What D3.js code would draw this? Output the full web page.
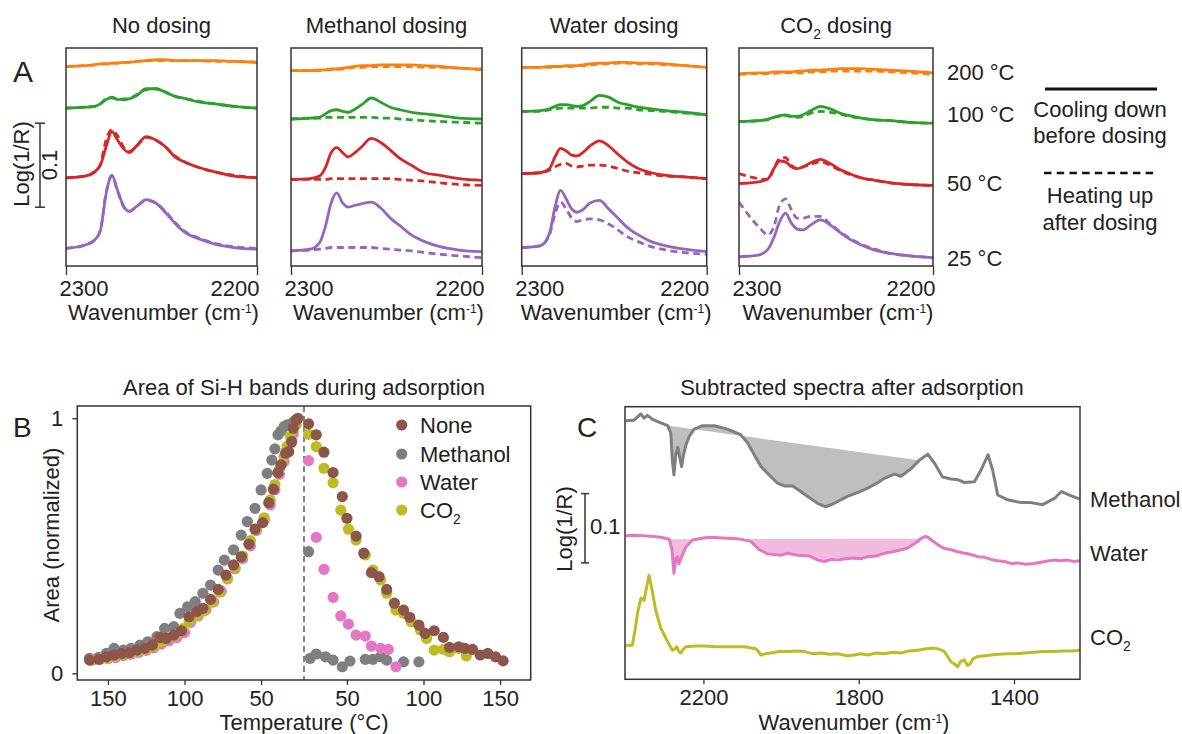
<!DOCTYPE html>
<html>
<head>
<meta charset="utf-8">
<script src="https://cdn.jsdelivr.net/npm/d3@7"></script>
<style>
body { margin: 0; background: #fff; }
text { font-family: "Liberation Sans", Arial, sans-serif; fill: #222; }
</style>
</head>
<body>
<svg id="fig" width="1182" height="734"></svg>
<script>
// ---------- panel A data ----------
var wnA = [2300, 2290, 2285, 2282, 2279, 2276, 2273, 2270, 2267, 2263, 2258, 2253, 2248, 2243, 2237, 2230, 2222, 2212, 2200];
var titlesA = ["No dosing", "Methanol dosing", "Water dosing", "CO2 dosing"];
var tempLabels = ["200 °C", "100 °C", "50 °C", "25 °C"];
var tempColors = ["#ff7f0e", "#2ca02c", "#d62728", "#9467bd"];

// stacking offsets, order 200, 100, 50, 25 °C
var offNone = [0.2375, 0.188, 0.105, 0.021];
var offMeth = [0.2325, 0.175, 0.103, 0.018];
var offWater = [0.2365, 0.184, 0.110, 0.022];
var offCo2 = [0.229, 0.172, 0.098, 0.011];

// s = cooling down before dosing, d = heating up after dosing
var none200s = [0, .001, .002, .003, .003, .004, .004, .005, .005, .006, .007, .008, .008, .007, .007, .007, .007, .006, .005];
var none200d = [0, .001, .002, .003, .003, .004, .004, .005, .005, .006, .007, .007, .007, .007, .007, .007, .006, .006, .005];
var none100s = [0, .001, .002, .005, .010, .013, .010, .011, .011, .015, .023, .023, .019, .014, .011, .007, .005, .002, .000];
var none100d = [0, .001, .002, .005, .011, .012, .011, .010, .011, .016, .022, .023, .019, .014, .011, .008, .005, .002, .000];
var none50s = [0, .002, .007, .015, .037, .055, .045, .035, .030, .038, .049, .045, .037, .025, .018, .012, .007, .002, .000];
var none50d = [0, .002, .007, .016, .045, .057, .050, .037, .031, .038, .048, .045, .037, .026, .018, .012, .007, .003, .000];
var none25s = [0, .004, .010, .021, .065, .087, .069, .051, .044, .050, .058, .054, .043, .030, .018, .011, .005, .001, -.001];
var none25d = [0, .004, .010, .022, .066, .086, .068, .050, .044, .050, .057, .054, .044, .031, .019, .012, .006, .002, .000];

var meth200s = [0, .000, .001, .001, .002, .002, .003, .004, .005, .006, .006, .007, .007, .007, .007, .006, .005, .003, .002];
var meth200d = [0, .000, .000, .001, .001, .002, .002, .003, .004, .004, .005, .005, .005, .005, .005, .004, .004, .003, .001];
var meth100s = [0, .001, .002, .006, .010, .011, .009, .008, .011, .017, .025, .020, .014, .011, .008, .006, .004, .001, .000];
var meth100d = [0, .001, .001, .002, .002, .002, .002, .002, .002, .002, .002, .001, .001, .000, -.001, -.002, -.003, -.004, -.005];
var meth50s = [0, .001, .004, .014, .032, .038, .032, .027, .031, .039, .049, .044, .035, .025, .017, .008, .005, .001, -.001];
var meth50d = [0, .000, .000, .000, .001, .001, .001, .001, .001, .001, .001, .001, .001, .000, -.001, -.002, -.004, -.006, -.007];
var meth25s = [0, .002, .010, .029, .057, .069, .057, .052, .054, .056, .058, .051, .039, .030, .019, .011, .005, .001, -.001];
var meth25d = [0, .001, .002, .003, .004, .004, .004, .004, .004, .004, .004, .003, .002, .001, .000, -.002, -.004, -.006, -.008];

var water200s = [0, .000, .001, .001, .001, .002, .002, .002, .003, .004, .005, .005, .006, .006, .005, .005, .004, .002, .000];
var water200d = [0, .000, .000, .001, .001, .001, .001, .002, .002, .003, .004, .004, .005, .005, .004, .004, .003, .002, .000];
var water100s = [0, .001, .003, .006, .008, .008, .007, .006, .007, .012, .019, .017, .011, .008, .005, .003, .001, -.001, -.004];
var water100d = [0, .000, .002, .003, .004, .004, .004, .004, .004, .004, .005, .005, .004, .004, .002, .001, .000, -.002, -.004];
var water50s = [0, .001, .006, .020, .030, .027, .022, .021, .025, .033, .039, .033, .023, .014, .006, .001, -.002, -.004, -.006];
var water50d = [0, .001, .004, .008, .011, .012, .009, .008, .009, .010, .010, .009, .006, .003, .001, -.001, -.003, -.004, -.006];
var water25s = [0, .002, .017, .048, .068, .058, .046, .042, .045, .053, .056, .046, .035, .024, .015, .007, .002, -.002, -.005];
var water25d = [0, .002, .015, .040, .054, .046, .035, .031, .033, .034, .033, .028, .021, .013, .007, .001, -.003, -.006, -.008];

var co2200s = [0, .001, .001, .002, .002, .002, .002, .003, .003, .004, .004, .005, .006, .006, .006, .005, .004, .003, .001];
var co2200d = [-.001, .000, .000, .000, .001, .001, .001, .001, .001, .002, .002, .003, .003, .003, .003, .003, .002, .001, -.001];
var co2100s = [0, .001, .003, .005, .007, .008, .006, .006, .008, .013, .018, .015, .010, .007, .004, .002, .001, -.001, -.002];
var co2100d = [0, .001, .002, .005, .006, .007, .006, .005, .006, .010, .012, .011, .009, .006, .004, .002, .001, -.001, -.002];
var co250s = [0, .002, .006, .018, .027, .026, .020, .018, .020, .025, .029, .024, .017, .012, .007, .004, .001, -.001, -.002];
var co250d = [.012, .006, .005, .018, .030, .031, .022, .018, .020, .023, .026, .022, .016, .011, .007, .004, .001, -.001, -.002];
var co225s = [0, .002, .009, .023, .042, .052, .040, .033, .032, .038, .044, .038, .029, .021, .014, .008, .004, .001, -.001];
var co225d = [.065, .036, .026, .036, .062, .069, .056, .046, .046, .048, .048, .039, .030, .022, .015, .009, .004, .001, -.001];

// ---------- panel B data: [temperature °C, normalized area] ----------
var seriesB = ["None", "Methanol", "Water", "CO2"];
var colorsB = ["#8c564b", "#7f7f7f", "#e377c2", "#bcbd22"];
var noneCool = [[162,.052],[156,.055],[151,.065],[146,.072],[141,.078],[136,.081],[131,.091],[126,.098],[121,.111],[116,.140],[112,.137],[107,.150],[102,.167],[97,.222],[92,.242],[88,.255],[83,.290],[78,.329],[73,.385],[68,.425],[63,.457],[58,.507],[54,.565],[49,.591],[45,.669],[42,.722],[39,.787],[37,.817],[34,.863],[32,.869],[30,.908],[29,.961],[27,.993],[26,1.0]];
var noneHeat = [[25,.978],[30,.935],[35,.867],[41,.787],[47,.693],[50,.608],[56,.538],[61,.471],[66,.395],[71,.379],[76,.329],[81,.275],[87,.248],[91,.220],[97,.189],[101,.157],[107,.167],[113,.141],[117,.102],[123,.104],[127,.098],[132,.094],[137,.072],[142,.078],[147,.065],[152,.049]];
var methCool = [[162,.059],[156,.063],[151,.078],[146,.098],[140,.091],[135,.098],[129,.111],[124,.124],[118,.144],[113,.176],[107,.183],[103,.235],[98,.261],[93,.281],[88,.314],[83,.346],[78,.405],[74,.444],[68,.484],[63,.542],[59,.595],[54,.647],[50,.719],[46,.784],[43,.836],[41,.880],[39,.935],[37,.950],[35,.967],[33,.974],[30,.980],[28,.990]];
var methHeat = [[25,.477],[26,.059],[30,.076],[36,.065],[41,.052],[47,.026],[52,.048],[62,.055],[67,.055],[72,.065],[76,.052],[87,.045],[97,.045]];
var waterCool = [[160,.052],[155,.055],[150,.058],[145,.062],[140,.070],[135,.075],[130,.082],[125,.090],[120,.100],[115,.115],[110,.128],[105,.140],[100,.160],[96,.200],[91,.225],[86,.250],[81,.280],[76,.322],[72,.370],[67,.410],[62,.450],[57,.500],[53,.560],[48,.600],[44,.660],[41,.720],[38,.780],[35,.830],[33,.870],[31,.900],[29,.940]];
var waterHeat = [[25,.834],[30,.533],[35,.408],[41,.298],[46,.225],[51,.193],[56,.150],[62,.146],[66,.107],[72,.098],[77,.094],[82,.026]];
var co2Cool = [[161,.052],[155,.057],[150,.060],[145,.068],[140,.075],[135,.080],[130,.088],[125,.095],[120,.105],[115,.125],[110,.140],[106,.150],[101,.175],[97,.205],[92,.225],[87,.245],[82,.280],[77,.318],[72,.372],[67,.415],[62,.460],[57,.520],[53,.565],[48,.610],[44,.680],[41,.740],[38,.800],[35,.850],[33,.890],[31,.930],[29,.960],[27,.975]];
var co2Heat = [[25,.937],[30,.889],[35,.804],[41,.747],[46,.640],[51,.565],[56,.523],[62,.464],[67,.405],[72,.366],[76,.314],[82,.248],[87,.235],[92,.202],[98,.170],[102,.137],[107,.091],[113,.094],[117,.085],[123,.098],[128,.068]];
var turnT = 22;
var tickCool = [150, 100, 50];
var tickHeat = [50, 100, 150];

// ---------- panel C data: [wavenumber, Log(1/R) offset] ----------
var methC = [[2400,.373],[2379,.374],[2361,.383],[2353,.377],[2344,.381],[2331,.375],[2310,.370],[2292,.366],[2284,.355],[2280,.316],[2276,.295],[2271,.325],[2266,.335],[2261,.320],[2256,.307],[2251,.325],[2245,.338],[2237,.350],[2224,.361],[2202,.366],[2172,.366],[2138,.361],[2104,.353],[2086,.341],[2069,.324],[2052,.307],[2031,.295],[2009,.283],[1992,.279],[1970,.279],[1949,.271],[1932,.264],[1906,.254],[1885,.249],[1863,.254],[1829,.264],[1800,.270],[1777,.276],[1750,.284],[1734,.290],[1708,.296],[1691,.293],[1665,.304],[1644,.316],[1622,.325],[1605,.312],[1584,.292],[1562,.289],[1545,.288],[1528,.284],[1502,.285],[1485,.302],[1467,.324],[1455,.302],[1442,.266],[1416,.259],[1382,.255],[1356,.255],[1326,.252],[1296,.261],[1278,.271],[1254,.265],[1230,.260]];
var waterC = [[2400,.207],[2380,.208],[2353,.207],[2330,.206],[2310,.205],[2288,.202],[2281,.187],[2276,.153],[2271,.175],[2267,.177],[2263,.167],[2256,.177],[2245,.191],[2228,.201],[2200,.204],[2181,.205],[2150,.204],[2112,.203],[2078,.199],[2065,.192],[2056,.187],[2035,.181],[2000,.179],[1983,.182],[1957,.179],[1928,.178],[1905,.172],[1889,.170],[1870,.173],[1855,.172],[1835,.174],[1812,.175],[1795,.174],[1777,.177],[1755,.178],[1734,.182],[1712,.184],[1691,.187],[1675,.189],[1661,.194],[1648,.199],[1640,.203],[1630,.206],[1622,.205],[1610,.200],[1596,.194],[1580,.189],[1562,.187],[1545,.184],[1528,.182],[1510,.180],[1493,.177],[1475,.176],[1459,.173],[1442,.171],[1425,.170],[1405,.167],[1390,.168],[1370,.166],[1348,.167],[1330,.169],[1310,.171],[1296,.172],[1280,.171],[1262,.172],[1245,.170],[1230,.171]];
var co2C = [[2400,.049],[2383,.049],[2375,.075],[2370,.095],[2361,.117],[2353,.114],[2346,.134],[2340,.150],[2334,.134],[2323,.100],[2310,.074],[2292,.054],[2280,.042],[2273,.044],[2269,.047],[2263,.040],[2258,.038],[2251,.044],[2245,.047],[2220,.048],[2198,.048],[2168,.047],[2138,.047],[2095,.047],[2065,.044],[2061,.042],[2052,.035],[2040,.037],[2026,.038],[2005,.040],[1983,.040],[1960,.041],[1940,.040],[1920,.037],[1897,.038],[1875,.036],[1854,.037],[1830,.034],[1812,.035],[1795,.037],[1777,.035],[1755,.038],[1734,.037],[1712,.039],[1691,.038],[1670,.041],[1648,.042],[1625,.044],[1605,.045],[1590,.043],[1579,.040],[1570,.032],[1562,.025],[1553,.022],[1545,.018],[1537,.026],[1528,.028],[1520,.020],[1515,.021],[1505,.030],[1493,.033],[1475,.034],[1459,.035],[1440,.036],[1416,.037],[1395,.037],[1373,.038],[1350,.039],[1322,.040],[1300,.040],[1270,.041],[1250,.041],[1230,.042]];
var labelsC = ["Methanol", "Water", "CO2"];
var colorsC = ["#7f7f7f", "#e377c2", "#bcbd22"];
var fillC = [[2292, 1644], [2290, 1640]];

var svg = d3.select("#fig");
var ink = "#333";
var fs = 22;

function subText(g, x, y, anchor, before, sub, after) {
  var t = g.append("text").attr("x", x).attr("y", y).attr("text-anchor", anchor).attr("font-size", fs);
  t.append("tspan").text(before);
  t.append("tspan").attr("dy", 6).attr("font-size", 14).text(sub);
  if (after) t.append("tspan").attr("dy", -6).text(after);
  return t;
}
function wnLabel(x, y) {
  var t = svg.append("text").attr("x", x).attr("y", y).attr("text-anchor", "middle").attr("font-size", fs);
  t.append("tspan").text("Wavenumber (cm");
  t.append("tspan").attr("dy", -7).attr("font-size", 12).text("-1");
  t.append("tspan").attr("dy", 7).text(")");
}
function styleAxis(g) {
  g.select(".domain").remove();
  g.selectAll(".tick line").attr("stroke", ink).attr("stroke-width", 1.3);
  g.selectAll(".tick text").attr("font-size", fs).attr("fill", "#222")
    .attr("font-family", "'Liberation Sans', Arial, sans-serif");
}

// ================= PANEL A =================
var yA = d3.scaleLinear().domain([0, 0.2595]).range([266, 48]);
var boxesA = [[66, 257], [291, 482], [521.7, 706.7], [739, 933]];
var panelsA = [
  { off: offNone, solid: [none200s, none100s, none50s, none25s], dash: [none200d, none100d, none50d, none25d] },
  { off: offMeth, solid: [meth200s, meth100s, meth50s, meth25s], dash: [meth200d, meth100d, meth50d, meth25d] },
  { off: offWater, solid: [water200s, water100s, water50s, water25s], dash: [water200d, water100d, water50d, water25d] },
  { off: offCo2, solid: [co2200s, co2100s, co250s, co225s], dash: [co2200d, co2100d, co250d, co225d] }
];

panelsA.forEach(function(p, i) {
  var b = boxesA[i];
  var x = d3.scaleLinear().domain([2300, 2200]).range(b);
  svg.append("clipPath").attr("id", "clipA" + i)
    .append("rect").attr("x", b[0]).attr("y", 48).attr("width", b[1] - b[0]).attr("height", 218);
  var g = svg.append("g").attr("clip-path", "url(#clipA" + i + ")");
  for (var k = 0; k < 4; k++) {
    var line = d3.line().curve(d3.curveMonotoneX)
      .x(function(d, j) { return x(wnA[j]); })
      .y(function(d) { return yA(d + p.off[k]); });
    g.append("path").attr("d", line(p.dash[k])).attr("fill", "none")
      .attr("stroke", tempColors[k]).attr("stroke-width", 2.8).attr("stroke-dasharray", "7,4.5");
    g.append("path").attr("d", line(p.solid[k])).attr("fill", "none")
      .attr("stroke", tempColors[k]).attr("stroke-width", 2.8);
  }
  svg.append("rect").attr("x", b[0]).attr("y", 48).attr("width", b[1] - b[0]).attr("height", 218)
    .attr("fill", "none").attr("stroke", ink).attr("stroke-width", 1.5);
  var ax = svg.append("g").attr("transform", "translate(0,266)")
    .call(d3.axisBottom(x).tickValues([2300, 2200]).tickSize(9).tickPadding(5).tickFormat(d3.format("d")));
  styleAxis(ax);
  ax.selectAll(".tick text")
    .attr("text-anchor", function(d) { return d === 2300 ? "start" : "end"; })
    .attr("dx", function(d) { return d === 2300 ? -7 : 2; });
  wnLabel((b[0] + b[1]) / 2 + 2, 320);
  var cx = (b[0] + b[1]) / 2;
  if (i === 3) subText(svg, cx, 33, "middle", "CO", "2", " dosing");
  else svg.append("text").attr("x", cx).attr("y", 33).attr("text-anchor", "middle").attr("font-size", fs).text(titlesA[i]);
});

svg.append("text").attr("x", 13).attr("y", 82).attr("font-size", 30).text("A");
// scale bar 0.1
var barA = [0.070, 0.170];
svg.append("line").attr("x1", 40).attr("x2", 40).attr("y1", yA(barA[0])).attr("y2", yA(barA[1])).attr("stroke", ink).attr("stroke-width", 1.5);
barA.forEach(function(v) {
  svg.append("line").attr("x1", 35).attr("x2", 45).attr("y1", yA(v)).attr("y2", yA(v)).attr("stroke", ink).attr("stroke-width", 1.5);
});
svg.append("text").attr("transform", "translate(29,164) rotate(-90)").attr("text-anchor", "middle").attr("font-size", fs).text("Log(1/R)");
svg.append("text").attr("transform", "translate(57,165) rotate(-90)").attr("text-anchor", "middle").attr("font-size", fs).text("0.1");

var tempY = [80, 121.7, 190.7, 266];
tempLabels.forEach(function(t, k) {
  svg.append("text").attr("x", 947).attr("y", tempY[k]).attr("font-size", fs).text(t);
});
svg.append("line").attr("x1", 1045).attr("x2", 1157).attr("y1", 89).attr("y2", 89).attr("stroke", "#111").attr("stroke-width", 3.2);
svg.append("line").attr("x1", 1044).attr("x2", 1157).attr("y1", 173).attr("y2", 173).attr("stroke", "#111").attr("stroke-width", 2.6).attr("stroke-dasharray", "7.5,5.2");
[["Cooling down", 117], ["before dosing", 143], ["Heating up", 203], ["after dosing", 230]].forEach(function(l) {
  svg.append("text").attr("x", 1100).attr("y", l[1]).attr("text-anchor", "middle").attr("font-size", fs).text(l[0]);
});

// ================= PANEL B =================
var xB = d3.scaleLinear().domain([-148, 148]).range([77.3, 530.7]);
var yB = d3.scaleLinear().domain([-0.026, 1.048]).range([680, 406]);
var dataB = [
  { name: "Methanol", color: colorsB[1], cool: methCool, heat: methHeat },
  { name: "Water", color: colorsB[2], cool: waterCool, heat: waterHeat },
  { name: "CO2", color: colorsB[3], cool: co2Cool, heat: co2Heat },
  { name: "None", color: colorsB[0], cool: noneCool, heat: noneHeat }
];
var gB = svg.append("g");
gB.append("line").attr("x1", xB(0)).attr("x2", xB(0)).attr("y1", 406).attr("y2", 680)
  .attr("stroke", "#555").attr("stroke-width", 1.4).attr("stroke-dasharray", "6,4");
dataB.forEach(function(s) {
  var pts = s.cool.map(function(d) { return [turnT - d[0], d[1]]; })
    .concat(s.heat.map(function(d) { return [d[0] - turnT, d[1]]; }));
  gB.selectAll(null).data(pts).enter().append("circle")
    .attr("cx", function(d) { return xB(d[0]); })
    .attr("cy", function(d) { return yB(d[1]); })
    .attr("r", 5.6).attr("fill", s.color);
});
svg.append("rect").attr("x", 77.3).attr("y", 406).attr("width", 453.4).attr("height", 274)
  .attr("fill", "none").attr("stroke", ink).attr("stroke-width", 1.5);
var tickU = tickCool.map(function(t) { return turnT - t; }).concat(tickHeat.map(function(t) { return t - turnT; }));
var axB = svg.append("g").attr("transform", "translate(0,680)")
  .call(d3.axisBottom(xB).tickValues(tickU).tickSize(5).tickPadding(5)
    .tickFormat(function(u) { return Math.abs(u) + turnT; }));
styleAxis(axB);
var ayB = svg.append("g").attr("transform", "translate(77.3,0)")
  .call(d3.axisLeft(yB).tickValues([0, 1]).tickSize(5).tickPadding(9).tickFormat(d3.format("d")));
styleAxis(ayB);
svg.append("text").attr("x", 304).attr("y", 395).attr("text-anchor", "middle").attr("font-size", fs).text("Area of Si-H bands during adsorption");
svg.append("text").attr("x", 304).attr("y", 730).attr("text-anchor", "middle").attr("font-size", fs).text("Temperature (°C)");
svg.append("text").attr("transform", "translate(59,535) rotate(-90)").attr("text-anchor", "middle").attr("font-size", fs).text("Area (normalized)");
svg.append("text").attr("x", 13).attr("y", 437).attr("font-size", 28).text("B");
var legY = [425, 454, 482, 510];
seriesB.forEach(function(n, k) {
  svg.append("circle").attr("cx", 401.7).attr("cy", legY[k]).attr("r", 5.6).attr("fill", colorsB[k]);
  if (n === "CO2") subText(svg, 420, legY[k] + 8, "start", "CO", "2");
  else svg.append("text").attr("x", 420).attr("y", legY[k] + 8).attr("font-size", fs).text(n);
});

// ================= PANEL C =================
var xC = d3.scaleLinear().domain([2402, 1230]).range([625, 1080]);
var yC = d3.scaleLinear().domain([0, 0.3934]).range([679.3, 406.7]);
var specC = [methC, waterC, co2C];
var gC = svg.append("g");
[0, 1].forEach(function(k) {
  var lo = fillC[k][0], hi = fillC[k][1];
  var seg = specC[k].filter(function(d) { return d[0] <= lo && d[0] >= hi; });
  var base = d3.scaleLinear().domain([seg[0][0], seg[seg.length - 1][0]]).range([seg[0][1], seg[seg.length - 1][1]]);
  var area = d3.area().x(function(d) { return xC(d[0]); })
    .y0(function(d) { return yC(base(d[0])); })
    .y1(function(d) { return yC(d[1]); });
  gC.append("path").attr("d", area(seg)).attr("fill", colorsC[k]).attr("fill-opacity", 0.5);
});
specC.forEach(function(s, k) {
  var line = d3.line().x(function(d) { return xC(d[0]); }).y(function(d) { return yC(d[1]); });
  gC.append("path").attr("d", line(s)).attr("fill", "none").attr("stroke", colorsC[k])
    .attr("stroke-width", 3).attr("stroke-linejoin", "round");
});
svg.append("rect").attr("x", 625).attr("y", 406.7).attr("width", 455).attr("height", 272.6)
  .attr("fill", "none").attr("stroke", ink).attr("stroke-width", 1.5);
var axC = svg.append("g").attr("transform", "translate(0,679.3)")
  .call(d3.axisBottom(xC).tickValues([2200, 1800, 1400]).tickSize(5).tickPadding(5).tickFormat(d3.format("d")));
styleAxis(axC);
svg.append("text").attr("x", 852).attr("y", 395).attr("text-anchor", "middle").attr("font-size", fs).text("Subtracted spectra after adsorption");
wnLabel(854, 730);
svg.append("text").attr("x", 577).attr("y", 437).attr("font-size", 28).text("C");
var barC = [0.168, 0.268];
svg.append("line").attr("x1", 585).attr("x2", 585).attr("y1", yC(barC[0])).attr("y2", yC(barC[1])).attr("stroke", ink).attr("stroke-width", 1.5);
barC.forEach(function(v) {
  svg.append("line").attr("x1", 581).attr("x2", 589).attr("y1", yC(v)).attr("y2", yC(v)).attr("stroke", ink).attr("stroke-width", 1.5);
});
svg.append("text").attr("x", 590).attr("y", 534).attr("font-size", fs).text("0.1");
svg.append("text").attr("transform", "translate(572,529) rotate(-90)").attr("text-anchor", "middle").attr("font-size", fs).text("Log(1/R)");
var labYC = [507, 561, 645];
labelsC.forEach(function(n, k) {
  if (n === "CO2") subText(svg, 1090, labYC[k], "start", "CO", "2");
  else svg.append("text").attr("x", 1090).attr("y", labYC[k]).attr("font-size", fs).text(n);
});
</script>
</body>
</html>
